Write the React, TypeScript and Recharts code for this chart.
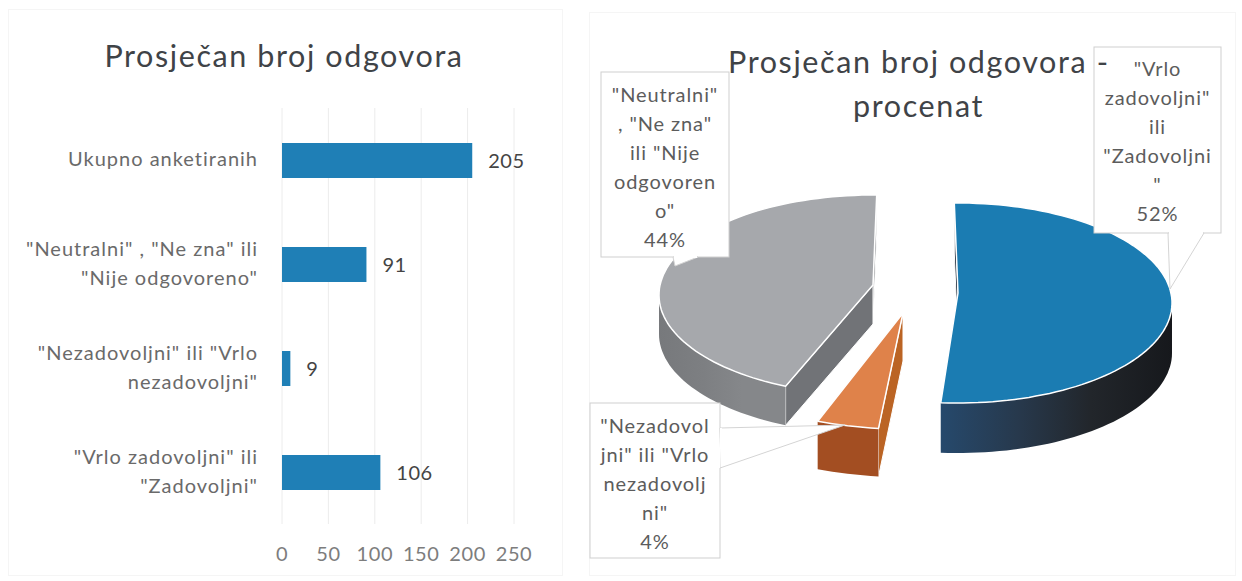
import { BarChart, Bar, XAxis, YAxis, CartesianGrid, LabelList, PieChart, Pie } from 'recharts';

const FONT = 'Lato, "Open Sans", sans-serif';

const barCategories = [
  'Ukupno anketiranih',
  '"Neutralni" , "Ne zna" ili\n"Nije odgovoreno"',
  '"Nezadovoljni" ili "Vrlo\nnezadovoljni"',
  '"Vrlo zadovoljni" ili\n"Zadovoljni"',
];
const barValues = [205, 91, 9, 106];
const barTicks = [0, 50, 100, 150, 200, 250];

const pieNames = ['Vrlo zadovoljni ili Zadovoljni', 'Nezadovoljni ili Vrlo nezadovoljni', 'Neutralni, Ne zna ili Nije odgovoreno'];
const pieValues = [52, 4, 44];
const pieLabelLines = [
  ['"Vrlo', 'zadovoljni"', 'ili', '"Zadovoljni', '"'],
  ['"Nezadovol', 'jni" ili "Vrlo', 'nezadovolj', 'ni"'],
  ['"Neutralni"', ', "Ne zna"', 'ili "Nije', 'odgovoren', 'o"'],
];

const barData = barCategories.map((name, i) => ({ name, value: barValues[i] }));
const pieData = pieNames.map((name, i) => ({ name, value: pieValues[i] }));

// look of the tilted pie, per slice; fromShift/toShift nudge the cut edges for the perspective
const TILT = 100 / 214;
const sliceStyles = [
  { top: '#1b7cb2', dx: 46, dy: 4, depth: 50, scale: 1, fromShift: 0, toShift: -1.6, cut: '#1d2a38', wall: ['#26496c', '#27384b', '#22262b', '#16181c'] },
  { top: '#df824a', dx: -9, dy: 24, depth: 48, scale: 1.06, fromShift: 0, toShift: 1.5, cut: '#bb6424', wall: ['#a34e22', '#a34e22', '#a34e22', '#a34e22'] },
  { top: '#a6a8ac', dx: -39, dy: -4, depth: 39, scale: 1, fromShift: 3.5, toShift: 2, cut: '#717377', wall: ['#77797c', '#7d7f82', '#85878a', '#85878a'] },
];

// callout boxes, in the pie chart's own pixels
const calloutStyles = [
  { x: 524, y: 47, w: 127, h: 186, tip: [[598, 233], [634, 233], [600, 289]], first: 68 },
  { x: 20, y: 403, w: 130, h: 155, tip: [[150, 428], [150, 468], [275, 425]], first: 425 },
  { x: 31, y: 72, w: 128, h: 185, tip: [[103, 257], [128, 257], [105, 266]], first: 94 },
];

function Tick({ x, y, payload }: any) {
  const lines = String(payload.value).split('\n');
  const start = y - ((lines.length - 1) * 29) / 2 - 2;
  return (
    <text x={x} textAnchor="end" fontFamily={FONT} fontSize={20} fill="#6a6a6a" letterSpacing={1}>
      {lines.map((line: string, i: number) => (
        <tspan key={i} x={x} y={start + i * 29} dominantBaseline="central">
          {line}
        </tspan>
      ))}
    </text>
  );
}

function SliceShape(props: any) {
  const { cx, cy, outerRadius, startAngle, endAngle, index } = props;
  const s = sliceStyles[index];
  const rx = outerRadius * s.scale;
  const ry = rx * TILT;
  const ax = cx + s.dx;
  const ay = cy + s.dy;
  // angles run clockwise from twelve o'clock; the ellipse sits a little below the apex (perspective)
  const rim = (deg: number) => {
    const a = (deg * Math.PI) / 180;
    return [ax + rx * Math.sin(a), ay + 10 - ry * Math.cos(a)];
  };
  const from = 90 - startAngle + s.fromShift;
  const to = 90 - endAngle + s.toShift;
  const arc = (a: number, b: number) => {
    const pts: number[][] = [];
    const n = Math.max(2, Math.ceil(Math.abs(b - a) / 2));
    for (let i = 0; i <= n; i++) pts.push(rim(a + ((b - a) * i) / n));
    return pts;
  };
  const poly = (pts: number[][]) => pts.map((p) => `${p[0].toFixed(1)},${p[1].toFixed(1)}`).join(' ');
  const down = (pts: number[][]) => pts.map((p) => [p[0], p[1] + s.depth]).reverse();

  const wFrom = Math.max(from, 90);
  const wTo = Math.min(to, 270);
  const wall = wTo > wFrom ? arc(wFrom, wTo) : [];
  const cutA = [[ax, ay], rim(from)];
  const cutB = [[ax, ay], rim(to)];
  const gradId = `wall-${index}`;

  return (
    <g>
      <defs>
        <linearGradient id={gradId} x1="0" y1="0" x2="1" y2="0">
          <stop offset="0%" stopColor={s.wall[0]} />
          <stop offset="35%" stopColor={s.wall[1]} />
          <stop offset="65%" stopColor={s.wall[2]} />
          <stop offset="100%" stopColor={s.wall[3]} />
        </linearGradient>
      </defs>
      <polygon points={poly([...cutB, ...down(cutB)])} fill={s.cut} stroke="#fff" strokeWidth={1} />
      <polygon points={poly([...cutA, ...down(cutA)])} fill={s.cut} stroke="#fff" strokeWidth={1} />
      {wall.length > 0 && <polygon points={poly([...wall, ...down(wall)])} fill={`url(#${gradId})`} />}
      <polygon points={poly([[ax, ay], ...arc(from, to)])} fill={s.top} stroke="#fff" strokeWidth={1.5} strokeLinejoin="round" />
    </g>
  );
}

function Callout(props: any) {
  const { index, value } = props;
  const c = calloutStyles[index];
  const lines = [...pieLabelLines[index], `${value}%`];
  const mid = c.x + c.w / 2;
  return (
    <g>
      <rect x={c.x} y={c.y} width={c.w} height={c.h} fill="#fff" stroke="#cfcfcf" strokeWidth={1} />
      <polygon points={c.tip.map((p) => p.join(',')).join(' ')} fill="#fff" stroke="#d4d4d4" strokeWidth={1} />
      <line x1={c.tip[0][0] + 1} y1={c.tip[0][1]} x2={c.tip[c.tip.length - 2][0] - 1} y2={c.tip[c.tip.length - 2][1]} stroke="#fff" strokeWidth={2} />
      <text textAnchor="middle" fontFamily={FONT} fontSize={20} fill="#5c5c5c" letterSpacing={0.9}>
        {lines.map((line, i) => (
          <tspan key={i} x={mid} y={c.first + i * 29} dominantBaseline="central">
            {line}
          </tspan>
        ))}
      </text>
    </g>
  );
}

const titleStyle: any = {
  position: 'absolute',
  fontFamily: FONT,
  fontSize: 30.5,
  letterSpacing: 1.6,
  color: '#3f4347',
  textAlign: 'center',
  whiteSpace: 'nowrap',
};

const panelStyle: any = { position: 'absolute', border: '1px solid #f5f5f5', boxSizing: 'border-box' };

export default function App() {
  return (
    <div style={{ position: 'absolute', left: 0, top: 0, width: 1242, height: 581, background: '#fff', overflow: 'hidden' }}>
      <div style={{ ...panelStyle, left: 8, top: 9, width: 555, height: 567 }} />
      <div style={{ ...panelStyle, left: 589, top: 12, width: 647, height: 564 }} />
      <div style={{ position: 'absolute', left: 0, top: 0 }}>
        <BarChart width={570} height={581} data={barData} layout="vertical" barSize={35} margin={{ top: 108, right: 56, bottom: 0, left: 0 }}>
          <CartesianGrid horizontal={false} stroke="#ececec" />
          <XAxis
            type="number"
            domain={[0, 250]}
            ticks={barTicks}
            axisLine={false}
            tickLine={false}
            height={57}
            tickMargin={17}
            tick={{ fontFamily: FONT, fontSize: 20, fill: '#7d7d7d', letterSpacing: 0.6 }}
          />
          <YAxis type="category" dataKey="name" width={282} axisLine={false} tickLine={false} tickMargin={18} tick={<Tick />} interval={0} />
          <Bar dataKey="value" fill="#1f7fb6" isAnimationActive={false}>
            <LabelList dataKey="value" position="right" offset={16} fontFamily={FONT} fontSize={20} fill="#444" letterSpacing={0.5} />
          </Bar>
        </BarChart>
      </div>
      <div style={{ position: 'absolute', left: 570, top: 0 }}>
        <PieChart width={672} height={581} margin={{ top: 0, right: 0, bottom: 0, left: 0 }}>
          <Pie
            data={pieData}
            dataKey="value"
            nameKey="name"
            cx={342}
            cy={289}
            outerRadius={214}
            startAngle={91}
            endAngle={-269}
            stroke="none"
            shape={SliceShape}
            label={Callout}
            labelLine={false}
            isAnimationActive={false}
          />
        </PieChart>
      </div>
      <div style={{ ...titleStyle, left: 104, width: 360, top: 37 }}>Prosječan broj odgovora</div>
      <div style={{ ...titleStyle, left: 728, width: 380, top: 43, textAlign: 'left' }}>Prosječan broj odgovora&nbsp;-</div>
      <div style={{ ...titleStyle, left: 853, width: 128, top: 87 }}>procenat</div>
    </div>
  );
}
